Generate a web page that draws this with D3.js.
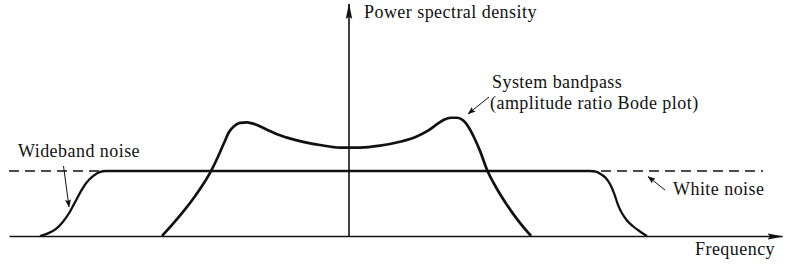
<!DOCTYPE html>
<html>
<head>
<meta charset="utf-8">
<script src="https://cdn.jsdelivr.net/npm/d3@7"></script>
<style>
  html, body { margin: 0; padding: 0; background: #fff; }
  svg { display: block; }
  text { font-family: "Liberation Serif", "Times New Roman", serif; fill: #111; letter-spacing: 0.45px; }
</style>
</head>
<body>
<svg id="chart" width="793" height="264"></svg>
<script>
// ---- Data (frequency in arbitrary units, centred on 0; PSD relative to white-noise level = 1) ----
const bandpassFreq = [-18.7, -17.7, -16.6, -15.6, -14.7, -13.8, -13.1, -12.5, -12.0, -11.5, -10.9, -10.2, -9.4, -8.4, -6.9, -4.9, -2.9, -0.9, 0, 1.1, 3.1, 5.1, 6.6, 7.9, 8.8, 9.5, 10.2, 10.8, 11.4, 11.9, 12.5, 13.1, 13.8, 14.7, 15.7, 16.9, 18.2];
const bandpassPSD  = [0, 0.17, 0.37, 0.57, 0.77, 1.00, 1.22, 1.43, 1.60, 1.69, 1.74, 1.75, 1.72, 1.65, 1.55, 1.46, 1.40, 1.36, 1.36, 1.36, 1.39, 1.45, 1.52, 1.62, 1.72, 1.79, 1.82, 1.82, 1.78, 1.69, 1.52, 1.31, 1.02, 0.75, 0.50, 0.24, 0];

const widebandFreq = [-30.9, -30.1, -29.3, -28.6, -28.0, -27.4, -26.8, -26.2, -25.6, -25.0, -24.3, 24.1, 24.7, 25.2, 25.7, 26.1, 26.5, 26.9, 27.3, 27.8, 28.4, 29.1, 29.8];
const widebandPSD  = [0, 0.04, 0.11, 0.22, 0.35, 0.52, 0.69, 0.83, 0.92, 0.98, 1.0, 1.0, 0.99, 0.95, 0.89, 0.80, 0.66, 0.48, 0.35, 0.24, 0.15, 0.07, 0];

const whiteNoiseFreq = [-34.0, 41.4];
const whiteNoisePSD  = [1.0, 1.0];

const xDomain = [-34.0, 43.3];
const yDomain = [0, 3.57];

const axisLabels = { x: "Frequency", y: "Power spectral density" };
const annotations = [
  { lines: ["System bandpass", "(amplitude ratio Bode plot)"] },
  { lines: ["Wideband noise"] },
  { lines: ["White noise"] }
];

// ---- Drawing ----
const svg = d3.select("#chart");
const x = d3.scaleLinear().domain(xDomain).range([9, 782]);
const y = d3.scaleLinear().domain(yDomain).range([236, 4]);

const defs = svg.append("defs");
defs.append("marker").attr("id", "axisArrow")
  .attr("viewBox", "0 0 16 8").attr("refX", 15).attr("refY", 4)
  .attr("markerWidth", 16).attr("markerHeight", 8)
  .attr("markerUnits", "userSpaceOnUse").attr("orient", "auto")
  .append("path").attr("d", "M0,0.8 L16,4 L0,7.2 L2.5,4 Z").attr("fill", "#111");
defs.append("marker").attr("id", "smallArrow")
  .attr("viewBox", "0 0 8 6").attr("refX", 7.5).attr("refY", 3)
  .attr("markerWidth", 8).attr("markerHeight", 6)
  .attr("markerUnits", "userSpaceOnUse").attr("orient", "auto")
  .append("path").attr("d", "M0,0 L8,3 L0,6 L1.5,3 Z").attr("fill", "#111");

// Axes via d3 axis generators (no ticks)
const xAxisG = svg.append("g").attr("transform", `translate(0,${y(0)})`)
  .call(d3.axisBottom(x).ticks(0).tickSizeOuter(0));
xAxisG.select(".domain").attr("stroke", "#111").attr("stroke-width", 1.6)
  .attr("marker-end", "url(#axisArrow)");

const yAxisG = svg.append("g").attr("transform", `translate(${x(0)},0)`)
  .call(d3.axisLeft(y).ticks(0).tickSizeOuter(0));
yAxisG.select(".domain").attr("stroke", "#111").attr("stroke-width", 1.6)
  .attr("d", `M0,${y(0) + 1}V${y(yDomain[1])}`)
  .attr("marker-end", "url(#axisArrow)");

// White noise (dashed)
svg.append("path")
  .datum(whiteNoiseFreq.map((f, i) => [f, whiteNoisePSD[i]]))
  .attr("d", d3.line().x(d => x(d[0])).y(d => y(d[1])))
  .attr("fill", "none").attr("stroke", "#111").attr("stroke-width", 1.3)
  .attr("stroke-dasharray", "10,6");

// Wideband noise
svg.append("path")
  .datum(widebandFreq.map((f, i) => [f, widebandPSD[i]]))
  .attr("d", d3.line().x(d => x(d[0])).y(d => y(d[1])).curve(d3.curveMonotoneX))
  .attr("fill", "none").attr("stroke", "#111").attr("stroke-width", 2.3)
  .attr("stroke-linejoin", "round");

// System bandpass
svg.append("path")
  .datum(bandpassFreq.map((f, i) => [f, bandpassPSD[i]]))
  .attr("d", d3.line().x(d => x(d[0])).y(d => y(d[1])).curve(d3.curveMonotoneX))
  .attr("fill", "none").attr("stroke", "#111").attr("stroke-width", 2.7)
  .attr("stroke-linejoin", "round");

// Axis labels
svg.append("text").attr("x", 364).attr("y", 18).attr("font-size", 18).text(axisLabels.y);
svg.append("text").attr("x", 695).attr("y", 255).attr("font-size", 18).text(axisLabels.x);

// Annotations
const ann0 = svg.append("text").attr("font-size", 18);
ann0.append("tspan").attr("x", 492).attr("y", 88).text(annotations[0].lines[0]);
ann0.append("tspan").attr("x", 490).attr("y", 109).text(annotations[0].lines[1]);
svg.append("text").attr("x", 18).attr("y", 157).attr("font-size", 18).text(annotations[1].lines[0]);
svg.append("text").attr("x", 673).attr("y", 195).attr("font-size", 18).text(annotations[2].lines[0]);

// Leader arrows
const arrows = [
  [[489, 97], [468, 114]],
  [[63.5, 166], [69, 207]],
  [[665, 190], [648, 176.5]]
];
svg.selectAll(".leader").data(arrows).enter().append("line").attr("class", "leader")
  .attr("x1", d => d[0][0]).attr("y1", d => d[0][1])
  .attr("x2", d => d[1][0]).attr("y2", d => d[1][1])
  .attr("stroke", "#111").attr("stroke-width", 1)
  .attr("marker-end", "url(#smallArrow)");
</script>
</body>
</html>
